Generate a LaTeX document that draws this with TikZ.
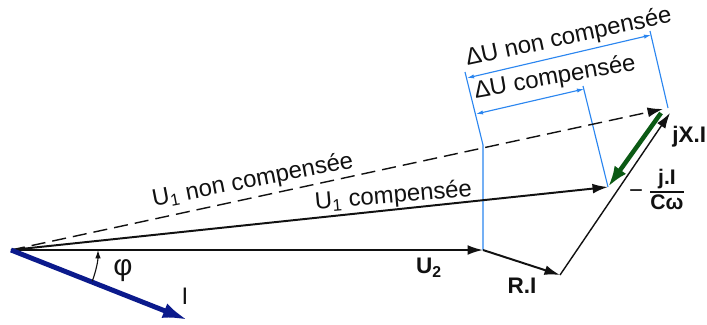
\documentclass[tikz,border=0pt]{standalone}
\usepackage{fontspec}
\setmainfont{Liberation Sans}
\usetikzlibrary{arrows.meta,calc}
\definecolor{Navy}{HTML}{0B1A8C}
\definecolor{Leaf}{HTML}{0B5A14}
\definecolor{Sky}{HTML}{2B86F0}
\definecolor{Ink}{HTML}{111111}
\setlength{\arrayrulewidth}{1pt}
\tikzset{
  vecline/.style={-{Latex[length=11pt,width=7pt]},draw=Ink,line width=1.4pt},
  thinvec/.style={-{Latex[length=11pt,width=7pt]},draw=Ink,line width=1pt},
  dashvec/.style={-{Latex[length=11pt,width=7pt]},draw=Ink,line width=1pt,dash pattern=on 10pt off 5pt},
  curvec/.style={-{Latex[length=18pt,width=11pt]},draw=Navy,line width=3.5pt},
  capvec/.style={-{Latex[length=15pt,width=10pt]},draw=Leaf,line width=3.2pt},
  phiarc/.style={-{Latex[length=6pt,width=4pt]},draw=Ink,line width=0.8pt},
  extline/.style={draw=Sky,line width=0.8pt},
  dimline/.style={{Latex[length=5pt,width=3pt]}-{Latex[length=5pt,width=3pt]},draw=Sky,line width=0.8pt},
  lbl/.style={font=\fontsize{17}{20}\selectfont,inner sep=0pt,text=Ink},
  boldlbl/.style={font=\fontsize{16}{19}\selectfont\bfseries,inner sep=0pt,text=Ink}
}
\begin{document}
\begin{tikzpicture}[x=0.025cm,y=-0.025cm]
  \useasboundingbox[fill=white] (0,0) rectangle (707,324);
  % points of the phasor diagram (pixel grid)
  \coordinate (O) at (11,250);
  \coordinate (A) at (483,250);
  \coordinate (B) at (560,275);
  \coordinate (C) at (670,113);
  \coordinate (N) at (663,109);
  \coordinate (G) at (661,113);
  \coordinate (D) at (608,187);
  \coordinate (Itip) at (188,320);
  % blue dimension lines
  \coordinate (E1) at (483,145);
  \coordinate (L1) at (465,72);
  \coordinate (R1) at (668,108);
  \coordinate (R2) at (650,31);
  \coordinate (S2) at (583,86);
  \coordinate (P1) at (467,78);
  \coordinate (P2) at (651,35);
  \coordinate (Q1) at (476,114);
  \coordinate (Q2) at (584,89);
  \draw[extline] (A) -- (E1) -- (L1);
  \draw[extline] (R1) -- (R2);
  \draw[extline] (D) -- (S2);
  \draw[dimline] (P1) -- (P2);
  \draw[dimline] (Q1) -- (Q2);
  % vectors
  \draw[dashvec] (O) -- (N);
  \draw[vecline] (O) -- (D);
  \draw[vecline] (O) -- (A);
  \draw[vecline] (A) -- (B);
  \draw[thinvec] (B) -- (C);
  \draw[capvec] (G) -- (D);
  \draw[curvec] (O) -- (Itip);
  \draw[phiarc] ($(O)+(21:87)$) arc[start angle=21,end angle=0,radius=87];
  % labels
  \node[lbl,anchor=base,rotate=12] (dunc) at (570,44) {ΔU non compensée};
  \node[lbl,anchor=base,rotate=10] (duc) at (556,84) {ΔU compensée};
  \node[lbl,anchor=base,rotate=11] (u1nc) at (254,187) {U\textsubscript{1} non compensée};
  \node[lbl,anchor=base,rotate=5] (u1c) at (394,203) {U\textsubscript{1} compensée};
  \node[boldlbl] (u2lbl) at (429,268) {U\textsubscript{2}};
  \node[boldlbl] (rilbl) at (522,286) {R.I};
  \node[boldlbl,anchor=west] (jxlbl) at (672,137) {jX.I};
  \node[lbl] (minus) at (636,194) {−};
  \node[boldlbl,font=\fontsize{15}{17}\selectfont\bfseries] (capfrac) at (667,192)
    {\begin{tabular}{@{}c@{}}j.I\\\hline Cω\end{tabular}};
  \node[lbl,font=\fontsize{21}{24}\selectfont] (philbl) at (123,271) {φ};
  \node[lbl] (ilbl) at (185,296) {I};
\end{tikzpicture}
\end{document}
